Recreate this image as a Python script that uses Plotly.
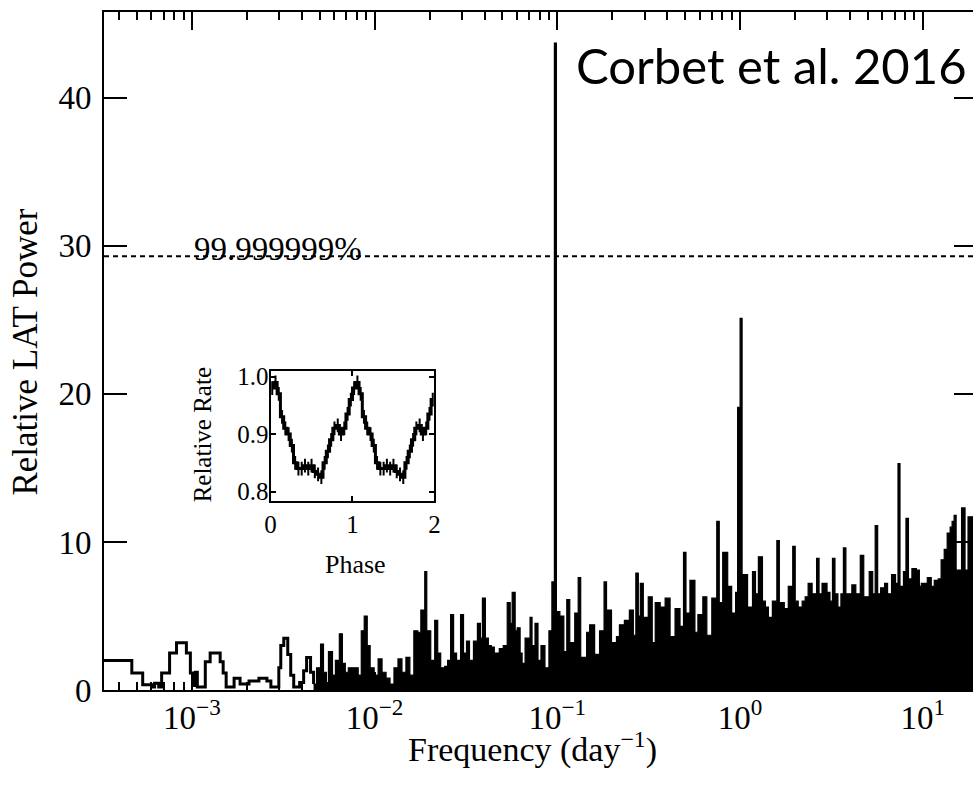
import plotly.graph_objects as go

# ---------------- data ----------------
# low-frequency part of the power spectrum (drawn as an open histogram outline)
low_freq = [3.00e-4, 4.69e-4, 5.38e-4, 6.02e-4, 6.25e-4, 6.58e-4, 6.83e-4, 7.55e-4,
            8.24e-4, 9.33e-4, 9.81e-4, 1.019e-3, 1.045e-3, 1.071e-3, 1.184e-3, 1.259e-3,
            1.428e-3, 1.483e-3, 1.540e-3, 1.702e-3, 1.835e-3, 2.054e-3, 2.327e-3, 2.573e-3,
            2.705e-3, 2.990e-3, 3.065e-3, 3.183e-3, 3.346e-3, 3.474e-3, 3.607e-3, 3.888e-3,
            4.088e-3, 4.244e-3, 4.461e-3, 4.632e-3]
low_power = [2.0, 1.15, 0.35, 0.2, 0.45, 0.2, 1.15, 2.5,
             3.2, 2.5, 1.15, 0.3, 1.2, 0.2, 1.9, 2.5,
             1.9, 1.15, 0.2, 0.8, 0.4, 0.6, 0.8, 0.6,
             0.2, 1.5, 3.0, 3.5, 2.4, 1.0, 0.2, 0.5,
             1.3, 2.2, 1.2, 0.4]

# dense high-frequency part (appears as a solid black histogram)
high_freq = [4.632e-3, 4.81e-3, 5.06e-3, 5.25e-3, 5.45e-3, 5.59e-3, 5.88e-3, 6.10e-3, 6.41e-3,
             6.66e-3, 6.91e-3, 7.18e-3, 7.64e-3, 8.13e-3, 8.45e-3, 8.77e-3, 9.11e-3, 9.45e-3,
             9.94e-3, 1.045e-2, 1.098e-2, 1.155e-2, 1.214e-2, 1.276e-2, 1.342e-2, 1.411e-2,
             1.483e-2, 1.559e-2, 1.639e-2, 1.723e-2, 1.790e-2, 1.881e-2, 1.929e-2, 2.028e-2,
             2.132e-2, 2.214e-2, 2.299e-2, 2.417e-2, 2.509e-2, 2.605e-2, 2.705e-2, 2.808e-2,
             2.953e-2, 3.065e-2, 3.183e-2, 3.305e-2, 3.474e-2, 3.652e-2, 3.792e-2, 3.888e-2,
             4.037e-2, 4.191e-2, 4.351e-2, 4.518e-2, 4.810e-2, 5.056e-2, 5.316e-2, 5.520e-2,
             5.659e-2, 5.876e-2, 6.023e-2, 6.254e-2, 6.412e-2, 6.658e-2, 7.088e-2, 7.267e-2,
             7.546e-2, 7.834e-2, 8.134e-2, 8.552e-2, 8.991e-2, 9.334e-2, 9.632e-2, 9.876e-2,
             0.1032, 0.1085, 0.1126, 0.1169, 0.1245, 0.1300, 0.1342, 0.1446, 0.1502, 0.1599,
             0.1702, 0.1801, 0.1858, 0.1978, 0.2106, 0.2186, 0.2327, 0.2478, 0.2605, 0.2688,
             0.2773, 0.2844, 0.2953, 0.3143, 0.3305, 0.3431, 0.3652, 0.3888, 0.4138, 0.4406,
             0.4690, 0.4901, 0.5056, 0.5316, 0.5659, 0.5876, 0.6254, 0.6575, 0.7000, 0.7452,
             0.7688, 0.8033, 0.8552, 0.8991, 0.9452, 0.9692, 1.000, 1.0254, 1.0985, 1.1692,
             1.2141, 1.259, 1.3252, 1.3759, 1.428, 1.5018, 1.589, 1.6393, 1.7451, 1.835,
             1.941, 2.0028, 2.0793, 2.1862, 2.2699, 2.3566, 2.4778, 2.6214, 2.7046, 2.8081,
             2.990, 3.104, 3.2024, 3.3045, 3.4307, 3.5623, 3.6754, 3.7924, 4.088, 4.2971,
             4.546, 4.7494, 5.0881, 5.3158, 5.485, 5.6592, 5.8763, 6.1763, 6.412, 6.7418,
             7.0882, 7.3133, 7.4987, 7.8342, 8.0838, 8.3402, 8.7144, 9.219, 9.5716, 9.81,
             10.58, 11.12, 11.55, 12.14, 12.59, 13.09, 13.59, 14.11, 14.46, 14.83,
             15.21, 16.29, 17.02, 17.67, 21.6]
high_power = [0.4, 1.5, 3.1, 1.2, 0.5, 2.6, 1.0, 2.0, 3.8,
              1.8, 1.2, 1.5, 1.5, 1.0, 4.0, 5.0, 3.0, 1.5,
              1.0, 2.1, 1.2, 0.8, 0.4, 1.5, 2.1, 1.2,
              2.2, 1.0, 4.0, 3.9, 5.4, 8.0, 4.0, 2.0,
              4.7, 2.5, 1.5, 1.6, 2.0, 5.1, 2.5, 2.0,
              5.1, 2.5, 3.3, 2.0, 3.3, 4.5, 3.5, 6.2,
              3.5, 3.0, 2.9, 2.5, 2.8, 3.0, 5.9, 4.5,
              6.6, 4.0, 4.2, 2.5, 1.8, 3.5, 4.9, 3.0,
              4.5, 2.0, 3.0, 1.5, 4.0, 7.3, 43.7, 5.3,
              5.0, 2.6, 6.1, 3.2, 5.2, 7.6, 2.2, 3.9, 4.4, 2.4,
              4.0, 7.3, 5.4, 3.2, 3.6, 4.4, 4.7, 5.4, 3.7, 7.9,
              5.0, 7.2, 4.9, 6.3, 3.2, 5.9, 5.6, 6.2, 3.6, 5.5,
              4.3, 9.3, 5.2, 7.4, 3.9, 5.1, 6.3, 3.7, 6.2, 11.4,
              5.9, 9.3, 7.0, 5.2, 6.6, 19.1, 25.1, 7.8, 5.6, 8.0,
              6.5, 9.0, 6.0, 5.6, 4.9, 6.0, 10.1, 5.9, 5.5, 7.0,
              9.7, 6.0, 5.6, 6.0, 6.3, 7.2, 6.5, 8.9, 6.5, 7.2,
              6.6, 6.0, 8.9, 6.5, 5.6, 6.5, 9.6, 6.5, 7.1, 6.5,
              9.1, 6.3, 8.0, 6.5, 11.1, 6.5, 6.9, 7.2, 6.5, 7.8,
              7.2, 15.3, 7.0, 8.0, 11.6, 7.5, 8.2, 8.1, 7.0, 7.2,
              7.6, 7.0, 7.4, 7.5, 8.8, 9.5, 10.6, 11.0, 11.4, 11.8,
              8.1, 12.3, 8.1, 11.7, 11.7]

threshold_power = 29.3
threshold_label = "99.999999%"

# inset: folded light curve (one cycle, shown twice)
phase = [0.02, 0.06, 0.10, 0.14, 0.18, 0.22, 0.26, 0.30, 0.34, 0.38, 0.42, 0.46, 0.50,
         0.54, 0.58, 0.62, 0.66, 0.70, 0.74, 0.78, 0.82, 0.86, 0.90, 0.94, 0.98]
rate = [0.98, 0.99, 0.97, 0.93, 0.91, 0.90, 0.88, 0.85, 0.84, 0.84, 0.845, 0.84, 0.845,
        0.835, 0.83, 0.825, 0.85, 0.87, 0.89, 0.91, 0.915, 0.90, 0.91, 0.935, 0.96]
rate_err = [0.012, 0.012, 0.012, 0.012, 0.012, 0.012, 0.012, 0.012, 0.012, 0.012, 0.012,
            0.012, 0.012, 0.012, 0.012, 0.012, 0.012, 0.012, 0.012, 0.012, 0.012, 0.012,
            0.012, 0.012, 0.012]

x_major = [1e-3, 1e-2, 1e-1, 1e0, 1e1]
x_major_text = ["10<sup>−3</sup>", "10<sup>−2</sup>", "10<sup>−1</sup>",
                "10<sup>0</sup>", "10<sup>1</sup>"]
y_ticks = [0, 10, 20, 30, 40]

# ---------------- figure ----------------
SERIF = "Liberation Serif, Times New Roman, serif"
fig = go.Figure()

fig.add_trace(go.Scatter(x=low_freq, y=low_power, mode="lines",
                         line=dict(color="black", width=3, shape="hv"),
                         hoverinfo="skip", showlegend=False))
fig.add_trace(go.Scatter(x=high_freq, y=high_power, mode="lines",
                         line=dict(color="black", width=1.2, shape="hv"),
                         fill="tozeroy", fillcolor="black",
                         hoverinfo="skip", showlegend=False))
# invisible trace to attach the right-hand tick axis
fig.add_trace(go.Scatter(x=[x_major[0]], y=[0], yaxis="y2", mode="lines",
                         hoverinfo="skip", showlegend=False))

# inset light curve (two cycles)
ph2 = phase + [p + 1 for p in phase]
rt2 = rate + rate
er2 = rate_err + rate_err
fig.add_trace(go.Scatter(x=ph2, y=rt2, xaxis="x2", yaxis="y3", mode="lines",
                         line=dict(color="black", width=3, shape="hvh"),
                         error_y=dict(type="data", array=er2, color="black",
                                      thickness=2, width=0),
                         hoverinfo="skip", showlegend=False))

fig.add_shape(type="line", xref="paper", x0=0, x1=1, yref="y",
              y0=threshold_power, y1=threshold_power,
              line=dict(color="black", width=2, dash="5px,4px"))

axis_common = dict(showgrid=False, zeroline=False, linecolor="black",
                   tickcolor="black", tickwidth=2)

minor_vals = [m * 10.0 ** k for k in range(-4, 2) for m in range(2, 10)]

fig.update_layout(
    width=979, height=798, autosize=False,
    margin=dict(l=104, r=0, t=12, b=108),
    paper_bgcolor="white", plot_bgcolor="white",
    font=dict(family=SERIF, color="black"),
    xaxis=dict(type="log", range=[-3.481, 1.2745], tickmode="array",
               tickvals=x_major, ticktext=x_major_text, ticks="inside", ticklen=18,
               showline=True, linewidth=2, mirror="ticks",
               minor=dict(tickmode="array", tickvals=minor_vals, ticks="inside",
                          ticklen=8, tickwidth=2, tickcolor="black", showgrid=False),
               tickfont=dict(family=SERIF, size=33), ticklabelstandoff=-3,
               **axis_common),
    yaxis=dict(range=[0, 45.8], tickmode="array", tickvals=y_ticks,
               ticks="inside", ticklen=23, showline=True, linewidth=2, mirror=False,
               tickfont=dict(family=SERIF, size=33), ticklabelstandoff=4,
               **axis_common),
    yaxis2=dict(range=[0, 45.8], overlaying="y", side="right", anchor="x",
                tickmode="array", tickvals=y_ticks, ticks="inside", ticklen=19,
                showticklabels=False, showline=False, **axis_common),
    xaxis2=dict(domain=[0.1917, 0.3802], anchor="y3", range=[0, 2],
                tickmode="array", tickvals=[0, 1, 2], ticks="inside", ticklen=5,
                showline=True, linewidth=2, mirror="ticks",
                tickfont=dict(family=SERIF, size=25), **axis_common),
    yaxis3=dict(domain=[0.2792, 0.471], anchor="x2", range=[0.784, 1.0104],
                tickmode="array", tickvals=[0.8, 0.9, 1.0],
                ticktext=["0.8", "0.9", "1.0"], ticks="inside", ticklen=5,
                showline=True, linewidth=2, mirror="ticks",
                tickfont=dict(family=SERIF, size=25), ticklabelstandoff=-5,
                **axis_common),
)

fig.add_annotation(text="Relative LAT Power", xref="paper", yref="paper",
                   x=-0.0914, y=0.4985, xanchor="center", yanchor="middle",
                   textangle=-90, showarrow=False,
                   font=dict(family=SERIF, size=35))
fig.add_annotation(text="Frequency (day<sup>−1</sup>)", xref="paper", yref="paper",
                   x=0.4926, y=-0.085, xanchor="center", yanchor="middle",
                   showarrow=False, font=dict(family=SERIF, size=34))
fig.add_annotation(text=threshold_label, xref="paper", yref="y",
                   x=0.1017, y=threshold_power, xanchor="left", yanchor="bottom",
                   yshift=-13, showarrow=False, font=dict(family=SERIF, size=33))
fig.add_annotation(text="Corbet et al. 2016", xref="paper", yref="paper",
                   x=0.5406, y=0.9218, xanchor="left", yanchor="middle",
                   showarrow=False, font=dict(family="Lato, sans-serif", size=49))
fig.add_annotation(text="Phase", xref="paper", yref="paper",
                   x=0.2897, y=0.1844, xanchor="center", yanchor="middle",
                   showarrow=False, font=dict(family=SERIF, size=26))
fig.add_annotation(text="Relative Rate", xref="paper", yref="paper",
                   x=0.1131, y=0.376, xanchor="center", yanchor="middle",
                   textangle=-90, showarrow=False,
                   font=dict(family=SERIF, size=25))

fig.write_html("out.html", config={"responsive": False})
